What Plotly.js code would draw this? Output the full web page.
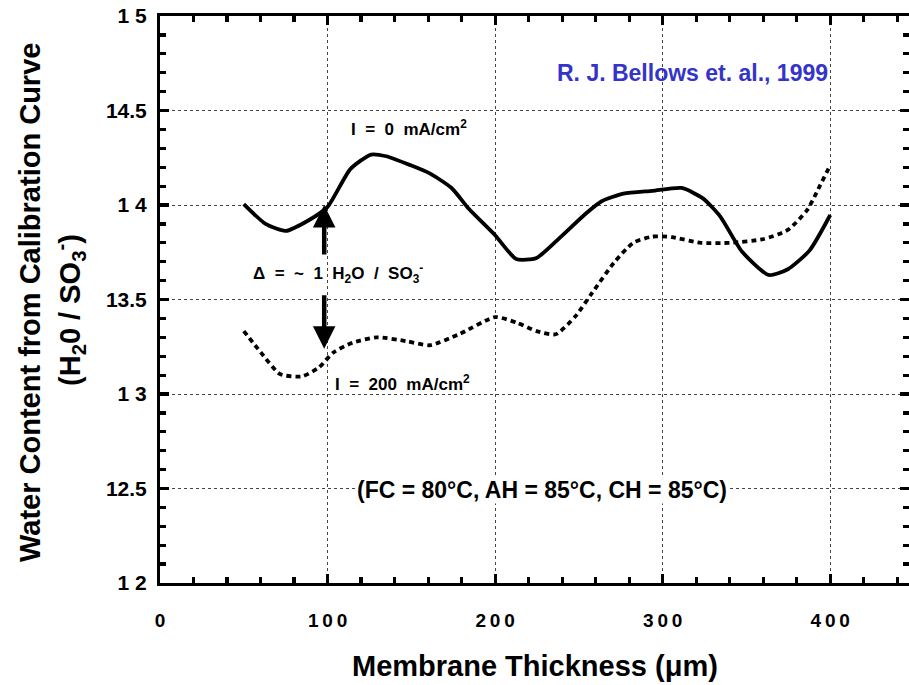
<!DOCTYPE html>
<html>
<head>
<meta charset="utf-8">
<script src="https://cdn.plot.ly/plotly-3.0.1.min.js"></script>
<style>html,body{margin:0;padding:0;background:#fff;}</style>
</head>
<body>
<div id="chart" style="width:909px;height:685px;"></div>
<script>
// Membrane thickness (um) and water content (H2O / SO3-)
const thickness0 = [50, 63, 75, 88.5, 100, 113.6, 126, 135, 149.6, 161, 174, 184.3, 200, 212.6, 224.7, 239, 253.5, 263.6, 276.6, 293.9, 311.3, 324, 334.3, 347.3, 363.2, 374.7, 387.7, 400];
const water0 = [14.005, 13.90, 13.863, 13.918, 13.99, 14.19, 14.267, 14.258, 14.21, 14.167, 14.09, 13.98, 13.84, 13.714, 13.72, 13.83, 13.95, 14.02, 14.06, 14.075, 14.09, 14.035, 13.94, 13.754, 13.63, 13.66, 13.76, 13.947];

const thickness200 = [50, 60.2, 71.7, 84.7, 94.8, 103.5, 115, 129.4, 146.8, 161, 178.5, 200, 213, 224.7, 236.2, 247.8, 257.9, 270.8, 282.4, 293.9, 305.5, 322.8, 340.1, 360.3, 374.7, 386.3, 393.5, 400];
const water200 = [13.333, 13.22, 13.105, 13.093, 13.14, 13.22, 13.272, 13.30, 13.28, 13.258, 13.316, 13.407, 13.377, 13.333, 13.316, 13.41, 13.535, 13.693, 13.80, 13.833, 13.83, 13.80, 13.80, 13.82, 13.868, 13.974, 14.096, 14.21];

const xTickVals = [0, 100, 200, 300, 400];
const xTickText = ["0", "1\u20090\u20090", "2\u20090\u20090", "3\u20090\u20090", "4\u20090\u20090"];
const yTickVals = [12, 12.5, 13, 13.5, 14, 14.5, 15];
const yTickText = ["1 2", "12.5", "1 3", "13.5", "1 4", "14.5", "1 5"];

const xTitle = "Membrane Thickness (μm)";
const yTitle1 = "Water Content from Calibration Curve";
const yTitle2 = "(H<sub>2</sub>0 / SO<sub>3</sub><sup>-</sup>)";

const FONT = "Liberation Sans, Arial, Helvetica, sans-serif";

const traces = [
  {x: thickness0, y: water0, type: "scatter", mode: "lines",
   line: {color: "#000", width: 3.8, shape: "spline", smoothing: 0.6},
   name: "I = 0 mA/cm²", showlegend: false, hoverinfo: "skip"},
  {x: thickness200, y: water200, type: "scatter", mode: "lines",
   line: {color: "#000", width: 3.8, dash: "5px,4px", shape: "spline", smoothing: 0.6},
   name: "I = 200 mA/cm²", showlegend: false, hoverinfo: "skip"}
];

const txt = {family: FONT, size: 17, color: "#000", weight: "bold"};
const titleFont = {family: FONT, size: 29, color: "#000", weight: "bold"};

const layout = {
  width: 909, height: 685,
  margin: {l: 160, r: 0, t: 16, b: 102},
  paper_bgcolor: "#fff", plot_bgcolor: "#fff", showlegend: false,
  xaxis: {
    range: [0, 447], autorange: false,
    tickmode: "array", tickvals: xTickVals, ticktext: xTickText,
    tickfont: {family: FONT, size: 19, color: "#000", weight: "bold"},
    ticks: "inside", ticklen: 9, tickwidth: 3.2, tickcolor: "#000",
    minor: {dtick: 20, ticks: "inside", ticklen: 6, tickwidth: 3.2, tickcolor: "#000", showgrid: false},
    showline: true, linewidth: 3, linecolor: "#000", mirror: "ticks",
    showgrid: true, gridcolor: "#444", gridwidth: 1, griddash: "dot",
    zeroline: false, ticklabelstandoff: 18
  },
  yaxis: {
    range: [12, 15], autorange: false,
    tickmode: "array", tickvals: yTickVals, ticktext: yTickText,
    tickfont: {family: FONT, size: 21, color: "#000", weight: "bold"},
    ticks: "inside", ticklen: 9, tickwidth: 3.2, tickcolor: "#000",
    minor: {dtick: 0.1, ticks: "inside", ticklen: 6, tickwidth: 3.2, tickcolor: "#000", showgrid: false},
    showline: true, linewidth: 3, linecolor: "#000", mirror: "ticks",
    showgrid: true, gridcolor: "#444", gridwidth: 1, griddash: "dot",
    zeroline: false, ticklabelstandoff: 6
  },
  annotations: [
    // axis titles
    {x: 0.5, y: -0.147, xref: "paper", yref: "paper", text: xTitle, showarrow: false,
     font: titleFont, xanchor: "center", yanchor: "middle"},
    {x: -0.1736, y: 0.4956, xref: "paper", yref: "paper", text: yTitle1, showarrow: false, textangle: -90,
     font: titleFont, xanchor: "center", yanchor: "middle"},
    {x: -0.1202, y: 0.4815, xref: "paper", yref: "paper", text: yTitle2, showarrow: false, textangle: -90,
     font: titleFont, xanchor: "center", yanchor: "middle"},
    // labels inside the plot
    {x: 317.6, y: 14.70, xref: "x", yref: "y", text: "R. J. Bellows et. al., 1999", showarrow: false,
     font: {family: FONT, size: 23, color: "#3434c8", weight: "bold"}, xanchor: "center", yanchor: "middle"},
    {x: 148.7, y: 14.41, xref: "x", yref: "y", text: "I  =  0  mA/cm<sup>2</sup>", showarrow: false, font: txt},
    {x: 106, y: 13.64, xref: "x", yref: "y", text: "Δ  =  ~  1  H<sub>2</sub>O  /  SO<sub>3</sub><sup>-</sup>", showarrow: false, font: txt},
    {x: 145, y: 13.058, xref: "x", yref: "y", text: "I  =  200  mA/cm<sup>2</sup>", showarrow: false, font: txt},
    {x: 228, y: 12.492, xref: "x", yref: "y", text: "(FC = 80°C, AH = 85°C, CH = 85°C)", showarrow: false,
     font: {family: FONT, size: 23, color: "#000", weight: "bold"}, bgcolor: "#fff", borderpad: 0},
    // difference arrows
    {x: 98, y: 14.0, xref: "x", yref: "y", ax: 98, ay: 13.73, axref: "x", ayref: "y", text: "",
     showarrow: true, arrowhead: 2, arrowsize: 1, arrowwidth: 4.5, arrowcolor: "#000", standoff: 0},
    {x: 98, y: 13.24, xref: "x", yref: "y", ax: 98, ay: 13.53, axref: "x", ayref: "y", text: "",
     showarrow: true, arrowhead: 2, arrowsize: 1, arrowwidth: 4.5, arrowcolor: "#000", standoff: 0}
  ]
};

Plotly.newPlot("chart", traces, layout, {displayModeBar: false, staticPlot: true});
</script>
</body>
</html>
